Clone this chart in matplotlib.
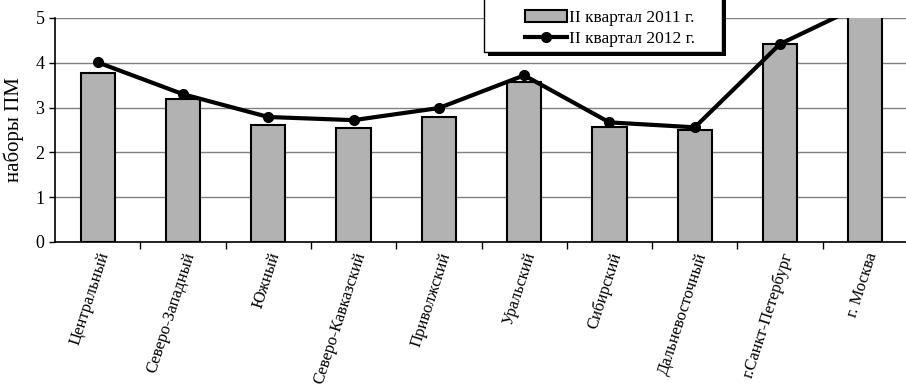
import numpy as np
from matplotlib import pyplot as plt
from matplotlib.patches import Rectangle

regions = ["Центральный", "Северо-Западный", "Южный", "Северо-Кавказский",
           "Приволжский", "Уральский", "Сибирский", "Дальневосточный",
           "г.Санкт-Петербург", "г. Москва"]
q2_2011 = [3.77, 3.19, 2.61, 2.54, 2.79, 3.57, 2.57, 2.51, 4.43, 5.6]
q2_2012 = [4.01, 3.30, 2.79, 2.72, 2.99, 3.72, 2.67, 2.56, 4.42, 5.33]

plt.rcParams['font.family'] = ['Liberation Serif', 'DejaVu Serif']

W, H = 906, 388
fig = plt.figure(figsize=(W/100, H/100), dpi=100)
ax = fig.add_axes([55/W, 146/H, 853/W, 224/H])

x = np.arange(len(regions))
bars = ax.bar(x, q2_2011, width=0.4, color='#b2b2b2', edgecolor='black', linewidth=1.5,
              label='II квартал 2011 г.', zorder=2)
line, = ax.plot(x, q2_2012, color='black', linewidth=3, marker='o', markersize=7,
                label='II квартал 2012 г.', zorder=3)

ax.set_xlim(-0.5, 9.5)
ax.set_ylim(0, 5)
ax.set_yticks(range(6))
ax.yaxis.grid(True, color='#808080', linewidth=1, zorder=0)
ax.set_axisbelow(True)

ax.set_xticks(x)
ax.set_xticklabels(regions, rotation=72, ha='right', rotation_mode='anchor', fontsize=12)
ax.set_xticks(np.arange(0.5, 9.6, 1), minor=True)
ax.tick_params(axis='x', which='major', length=0, pad=6)
ax.tick_params(axis='x', which='minor', length=5, width=1, direction='out')
ax.tick_params(axis='y', labelsize=13, length=4, width=1, direction='out')

for s in ['top', 'right']:
    ax.spines[s].set_visible(False)
ax.spines['left'].set_linewidth(1.2)
ax.spines['bottom'].set_linewidth(1.2)

ax.set_ylabel('наборы ПМ', fontsize=15, labelpad=8)

# legend box with a hard shadow, drawn by hand
fig.patches.append(Rectangle((488/W, 1 - 56/H), 238/W, 62/H, transform=fig.transFigure,
                             facecolor='black', edgecolor='none', zorder=5))
fig.patches.append(Rectangle((484/W, 1 - 52/H), 238/W, 62/H, transform=fig.transFigure,
                             facecolor='white', edgecolor='black', linewidth=1, zorder=6))
leg = fig.legend(handles=[bars, line], loc='center left',
                 bbox_to_anchor=(525/W, 1 - 28.5/H), borderaxespad=0, borderpad=0,
                 fontsize=12.5, frameon=False, handlelength=2.4, handletextpad=0.15,
                 labelspacing=0.32)
leg.set_zorder(7)

fig.savefig('out.png', dpi=100)
